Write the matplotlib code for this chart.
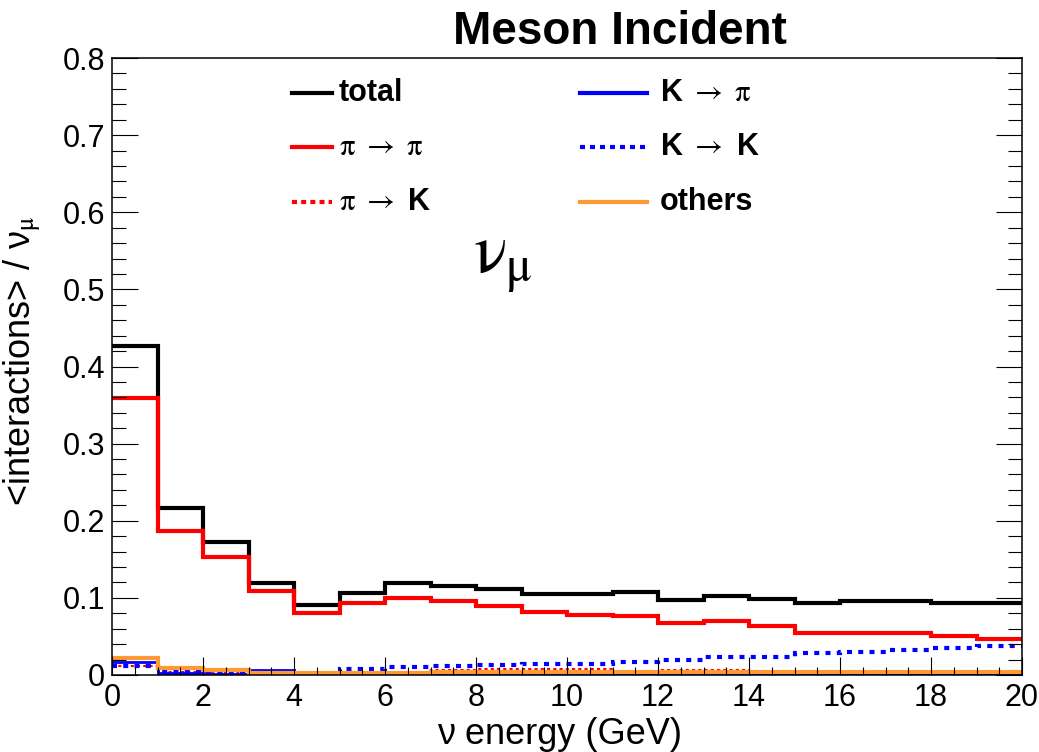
import numpy as np
import matplotlib
matplotlib.use("Agg")
import matplotlib.pyplot as plt
from matplotlib.ticker import MultipleLocator, FuncFormatter

plt.rcParams['font.family'] = ['Liberation Sans', 'DejaVu Sans']
plt.rcParams['mathtext.fontset'] = 'stix'

# bin edges in GeV (1 GeV bins from 0 to 20)
edges = np.arange(0, 21, 1)

# <interactions> / nu_mu per bin
total = [0.427, 0.216, 0.172, 0.119, 0.091, 0.106, 0.119, 0.115, 0.111, 0.105,
         0.105, 0.108, 0.097, 0.102, 0.098, 0.094, 0.0955, 0.0955, 0.094, 0.094]
pi_pi = [0.359, 0.187, 0.153, 0.109, 0.081, 0.094, 0.100, 0.096, 0.090, 0.082,
         0.078, 0.0765, 0.068, 0.0705, 0.064, 0.055, 0.055, 0.055, 0.050, 0.047]
pi_K = [0.0117, 0.0035, 0.002, 0.0003, 0.0005, 0.003, 0.003, 0.0068, 0.0072, 0.0074,
        0.0074, 0.004, 0.0068, 0.0068, 0.0042, 0.0042, 0.0042, 0.0042, 0.0042, 0.0042]
K_pi = [0.0165, 0.003, 0.0015, 0.0065, 0.0005, 0.002, 0.002, 0.0003, 0.0003, 0.0003,
        0.0003, 0.0012, 0.0004, 0.0004, 0.001, 0.001, 0.001, 0.001, 0.001, 0.001]
K_K = [0.012, 0.0035, 0.002, 0.0008, 0.0008, 0.0078, 0.010, 0.012, 0.0135, 0.0147,
       0.0147, 0.0173, 0.0195, 0.0238, 0.0235, 0.028, 0.030, 0.032, 0.0346, 0.0375]
others = [0.0216, 0.0087, 0.0065, 0.002, 0.002, 0.003, 0.003, 0.0043, 0.0043, 0.0043,
          0.0043, 0.0043, 0.0043, 0.0043, 0.0043, 0.0043, 0.0043, 0.0043, 0.0043, 0.0043]

ORANGE = '#ff9933'

W, H = 1039, 752
fig = plt.figure(figsize=(W / 100, H / 100), dpi=100)
ax = fig.add_axes([112 / W, 1 - 675 / H, 910 / W, 617 / H])

ax.stairs(total, edges, color='black', lw=3, baseline=None)
ax.stairs(pi_pi, edges, color='red', lw=3, baseline=None)
ax.stairs(pi_K, edges, color='red', lw=1.5, ls=(0, (1.5, 1.5)), baseline=None)
ax.stairs(K_pi, edges, color='blue', lw=2, baseline=None)
ax.stairs(K_K, edges, color='blue', lw=3, ls=(0, (1.2, 1.5)), baseline=None)
ax.stairs(others, edges, color=ORANGE, lw=3, baseline=None)

ax.set_xlim(0, 20)
ax.set_ylim(0, 0.8)

ax.xaxis.set_major_locator(MultipleLocator(2))
ax.xaxis.set_minor_locator(MultipleLocator(0.5))
ax.yaxis.set_major_locator(MultipleLocator(0.1))
ax.yaxis.set_minor_locator(MultipleLocator(0.02))
ax.yaxis.set_major_formatter(FuncFormatter(lambda v, p: '0' if abs(v) < 1e-9 else f'{v:.1f}'))

ax.tick_params(axis='both', which='both', direction='in', top=False, labelsize=22, width=0.8)
ax.tick_params(axis='y', which='both', right=True)
ax.tick_params(axis='y', which='major', length=19, pad=5)
ax.tick_params(axis='y', which='minor', length=10)
ax.tick_params(axis='x', which='major', length=13, pad=6)
ax.tick_params(axis='x', which='minor', length=5.5)
for s in ax.spines.values():
    s.set_linewidth(1.1)

ax.set_xlabel('ν energy (GeV)', fontsize=26)
ax.xaxis.set_label_coords(0.492, -0.068)
ax.xaxis.label.set_va('top')
ax.set_ylabel(r'<interactions> / ν$_{\mathrm{\mu}}$', fontsize=26)
ax.yaxis.set_label_coords(-0.075, 0.51)

fig.text(620 / W, 1 - 44 / H, 'Meson Incident', ha='center', va='baseline',
         fontsize=33, fontweight='bold')

ax.text((503 - 112) / 910, (675 - 273) / 617, r'$\mathrm{\nu}_{\mathrm{\mu}}$',
        transform=ax.transAxes, fontsize=50, ha='center', va='baseline')


# legend drawn by hand: two blocks with different handle lengths, like the original
def legend_entry(x0, x1, xt, y, label, **line_kw):
    fy = 1 - y / H
    fig.add_artist(plt.Line2D([x0 / W, x1 / W], [fy, fy], transform=fig.transFigure, **line_kw))
    fig.text(xt / W, fy, label, ha='left', va='center', fontsize=22, fontweight='bold')


rows = [93, 147, 202]
legend_entry(292, 332, 339, rows[0], 'total', color='black', lw=3)
legend_entry(292, 332, 339, rows[1], r'$\mathrm{\pi}\ \rightarrow\ \mathrm{\pi}$', color='red', lw=3)
legend_entry(292, 332, 339, rows[2], r'$\mathrm{\pi}\ \rightarrow$ K', color='red', lw=3,
             ls=(0, (1.2, 1.0)))
legend_entry(580, 647, 660, rows[0], r'K $\rightarrow\ \mathrm{\pi}$', color='blue', lw=3)
legend_entry(580, 647, 660, rows[1], r'K $\rightarrow$ K', color='blue', lw=3,
             ls=(0, (1.2, 1.2)))
legend_entry(580, 647, 660, rows[2], 'others', color=ORANGE, lw=3)

fig.savefig('out.png', dpi=100)
